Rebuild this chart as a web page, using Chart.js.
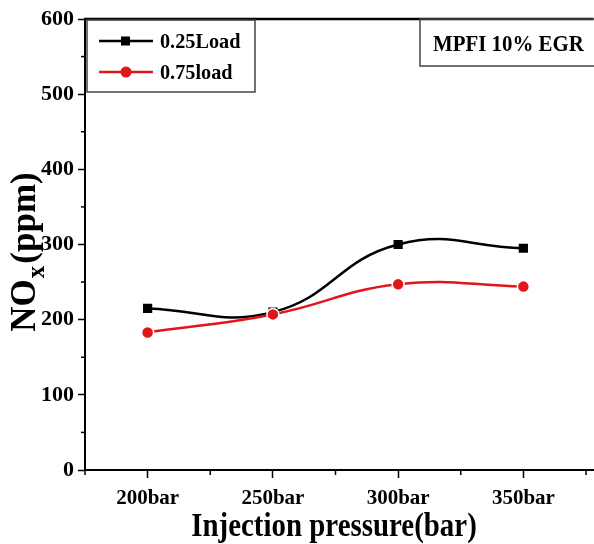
<!DOCTYPE html>
<html>
<head>
<meta charset="utf-8">
<script src="https://cdn.jsdelivr.net/npm/chart.js@4.4.0/dist/chart.umd.min.js"></script>
<style>
    html, body { margin: 0; padding: 0; background: #fff; }
    canvas { display: block; }
</style>
</head>
<body>
<canvas id="noxChart" width="594" height="544"></canvas>
<script>
const pressures = [200, 250, 300, 350];
const lowLoadNox = [215, 210, 300, 295];
const highLoadNox = [183, 207, 247, 244];
const seriesLabels = ["0.25Load", "0.75load"];
const xTickValues = [175, 200, 225, 250, 275, 300, 325, 350, 375];
const yTickValues = [0, 50, 100, 150, 200, 250, 300, 350, 400, 450, 500, 550, 600];
const noteText = "MPFI 10% EGR";
const xTitle = "Injection pressure(bar)";

const SERIF = '"Liberation Serif", "Times New Roman", serif';
const RED = "#e3151b";

function toPoints(values) {
    return pressures.map((p, i) => ({ x: p, y: values[i] }));
}

// short minor ticks, top frame line, legend, note box, axis titles
const decorPlugin = {
    id: "decor",
    afterDraw(chart) {
        const ctx = chart.ctx;
        const area = chart.chartArea;
        const xs = chart.scales.x;
        const ys = chart.scales.y;
        ctx.save();
        ctx.strokeStyle = "#000";
        ctx.lineWidth = 2.5;

        ctx.beginPath();
        ctx.moveTo(area.left - 1, area.top);
        ctx.lineTo(area.right, area.top);
        ctx.stroke();

        ctx.lineWidth = 1.5;
        xTickValues.filter(v => v % 50 !== 0).forEach(v => {
            const px = xs.getPixelForValue(v);
            ctx.beginPath();
            ctx.moveTo(px, area.bottom);
            ctx.lineTo(px, area.bottom + 5);
            ctx.stroke();
        });
        yTickValues.filter(v => v % 100 !== 0).forEach(v => {
            const py = ys.getPixelForValue(v);
            ctx.beginPath();
            ctx.moveTo(area.left, py);
            ctx.lineTo(area.left - 4, py);
            ctx.stroke();
        });

        // legend box
        const lx = area.left + 2, ly = area.top + 1;
        ctx.strokeStyle = "#444";
        ctx.lineWidth = 1.5;
        ctx.strokeRect(lx, ly, 168, 72);
        const styles = [
            { color: "#000", shape: "rect" },
            { color: RED, shape: "circle" }
        ];
        seriesLabels.forEach((label, i) => {
            const cy = ly + 21 + i * 31;
            ctx.strokeStyle = styles[i].color;
            ctx.lineWidth = 2.5;
            ctx.beginPath();
            ctx.moveTo(lx + 12, cy);
            ctx.lineTo(lx + 66, cy);
            ctx.stroke();
            ctx.fillStyle = styles[i].color;
            ctx.beginPath();
            if (styles[i].shape === "rect") ctx.rect(lx + 34, cy - 4.5, 9, 9);
            else ctx.arc(lx + 39, cy, 5.5, 0, Math.PI * 2);
            ctx.fill();
            ctx.save();
            ctx.translate(lx + 73, cy + 7);
            ctx.scale(0.92, 1);
            ctx.fillStyle = "#000";
            ctx.font = "bold 22px " + SERIF;
            ctx.fillText(label, 0, 0);
            ctx.restore();
        });

        // note box in the top right corner
        ctx.strokeStyle = "#444";
        ctx.lineWidth = 1.5;
        ctx.strokeRect(420, area.top, 200, 47);
        ctx.save();
        ctx.translate(433, area.top + 32);
        ctx.scale(0.87, 1);
        ctx.fillStyle = "#000";
        ctx.font = "bold 24px " + SERIF;
        ctx.fillText(noteText, 0, 0);
        ctx.restore();

        // x axis title
        ctx.save();
        ctx.translate(334, 536);
        ctx.scale(0.85, 1);
        ctx.fillStyle = "#000";
        ctx.font = "bold 34px " + SERIF;
        ctx.textAlign = "center";
        ctx.fillText(xTitle, 0, 0);
        ctx.restore();

        // y axis title with subscript x
        ctx.save();
        ctx.translate(35, 252);
        ctx.rotate(-Math.PI / 2);
        ctx.fillStyle = "#000";
        const big = "bold 35px " + SERIF;
        const small = "bold 25px " + SERIF;
        ctx.font = big;
        const w1 = ctx.measureText("NO").width;
        const w3 = ctx.measureText("(ppm)").width;
        ctx.font = small;
        const w2 = ctx.measureText("x").width + 3;
        const x0 = -(w1 + w2 + w3) / 2;
        ctx.font = big;
        ctx.fillText("NO", x0, 0);
        ctx.font = small;
        ctx.fillText("x", x0 + w1 + 1, 9);
        ctx.font = big;
        ctx.fillText("(ppm)", x0 + w1 + w2, 0);
        ctx.restore();

        ctx.restore();
    }
};

new Chart(document.getElementById("noxChart"), {
    type: "line",
    data: {
        datasets: [
            {
                label: seriesLabels[1],
                data: toPoints(highLoadNox),
                borderColor: RED,
                borderWidth: 2.5,
                tension: 0.45,
                pointStyle: "circle",
                pointRadius: 6,
                pointBackgroundColor: RED,
                pointBorderColor: "#fff",
                pointBorderWidth: 1.5,
                order: 0
            },
            {
                label: seriesLabels[0],
                data: toPoints(lowLoadNox),
                borderColor: "#000",
                borderWidth: 2.5,
                tension: 0.45,
                pointStyle: "rect",
                pointRadius: 6.5,
                pointBackgroundColor: "#000",
                pointBorderColor: "#000",
                pointBorderWidth: 0,
                order: 1
            }
        ]
    },
    options: {
        responsive: false,
        animation: false,
        layout: { autoPadding: false, padding: { top: 19, right: 0, left: 0, bottom: 0 } },
        plugins: {
            legend: { display: false },
            tooltip: { enabled: false }
        },
        scales: {
            x: {
                type: "linear",
                min: 175,
                max: 378,
                afterBuildTicks: axis => { axis.ticks = xTickValues.map(v => ({ value: v })); },
                afterFit: axis => { axis.height = 74; },
                ticks: {
                    autoSkip: false,
                    maxRotation: 0,
                    padding: 8,
                    color: "#000",
                    font: { family: SERIF, size: 21, weight: "bold" },
                    callback: v => (v % 50 === 0 ? v + "bar" : "")
                },
                grid: {
                    drawOnChartArea: false,
                    tickLength: 8,
                    tickWidth: 1.5,
                    tickColor: c => (c.tick && c.tick.value % 50 === 0 ? "#000" : "rgba(0,0,0,0)")
                },
                border: { color: "#000", width: 2 }
            },
            y: {
                min: 0,
                max: 600,
                afterBuildTicks: axis => { axis.ticks = yTickValues.map(v => ({ value: v })); },
                afterFit: axis => { axis.width = 85; },
                ticks: {
                    padding: 4,
                    color: "#000",
                    font: { family: SERIF, size: 22, weight: "bold" },
                    callback: v => (v % 100 === 0 ? String(v) : "")
                },
                grid: {
                    drawOnChartArea: false,
                    tickLength: 7,
                    tickWidth: 1.5,
                    tickColor: c => (c.tick && c.tick.value % 100 === 0 ? "#000" : "rgba(0,0,0,0)")
                },
                border: { color: "#000", width: 2 }
            }
        }
    },
    plugins: [decorPlugin]
});
</script>
</body>
</html>
